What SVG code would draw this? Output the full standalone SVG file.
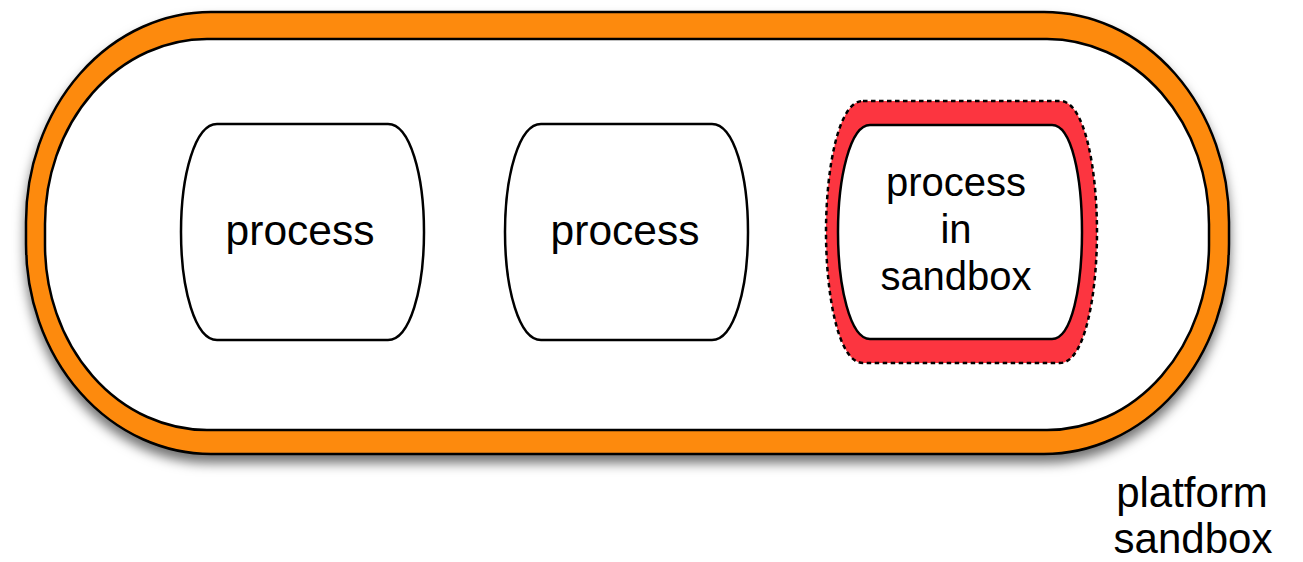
<svg xmlns="http://www.w3.org/2000/svg" width="1303" height="562" viewBox="0 0 1303 562">
<style>
.lbl{font-family:"Liberation Sans",Arial,sans-serif;fill:#000;text-anchor:middle}
.proc{fill:#fff;stroke:#000;stroke-width:2.5}
</style>
<defs>
<filter id="sh" x="-10%" y="-10%" width="120%" height="130%">
<feDropShadow dx="0" dy="8" stdDeviation="6" flood-color="#000" flood-opacity="0.55"/>
</filter>
</defs>
<rect width="1303" height="562" fill="#fff"/>
<g id="platform">
<rect x="26" y="12" width="1203" height="442" rx="185" ry="210" fill="#FD8A0E" stroke="#000" stroke-width="2.5" filter="url(#sh)"/>
<rect x="45" y="39" width="1164" height="391" rx="162" ry="185" fill="#fff" stroke="#000" stroke-width="2.5"/>
<text class="lbl" font-size="42" x="1192" y="507">platform</text>
<text class="lbl" font-size="42" x="1193" y="553">sandbox</text>
</g>
<g id="process1">
<path class="proc" d="M217,124 L388,124 C410,124 424,175 424,232 C424,289 410,340 388,340 L217,340 C195,340 181,289 181,232 C181,175 195,124 217,124 Z"/>
<text class="lbl" font-size="42.5" x="300" y="245">process</text>
</g>
<g id="process2">
<path class="proc" d="M541,124 L712,124 C734,124 748,175 748,232 C748,289 734,340 712,340 L541,340 C519,340 505,289 505,232 C505,175 519,124 541,124 Z"/>
<text class="lbl" font-size="42.5" x="625" y="245">process</text>
</g>
<g id="process3">
<path d="M863,101 L1060,101 C1085,101 1097,170 1097,232 C1097,294 1085,363 1060,363 L863,363 C838,363 826,294 826,232 C826,170 838,101 863,101 Z" fill="#FC3540" stroke="#000" stroke-width="2.5" stroke-dasharray="4.5,3.5"/>
<path class="proc" d="M870,125 L1052,125 C1072,125 1082,178 1082,232 C1082,286 1072,339 1052,339 L870,339 C850,339 838,286 838,232 C838,178 850,125 870,125 Z"/>
<text class="lbl" font-size="40" x="956" y="196">process</text>
<text class="lbl" font-size="40" x="956" y="243">in</text>
<text class="lbl" font-size="40" x="956" y="290">sandbox</text>
</g>
<g id="connectors"/>
</svg>
